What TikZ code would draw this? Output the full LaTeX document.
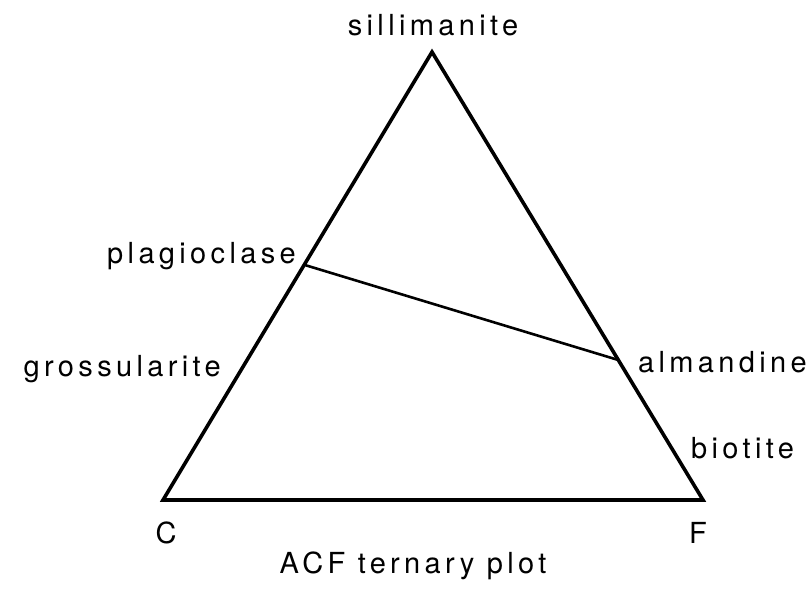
\documentclass[tikz,border=0pt]{standalone}
\usepackage{fontspec}
\setmainfont{TeX Gyre Heros}[LetterSpace=15]
\usepackage{tikz}
\usetikzlibrary{calc}
\definecolor{ink}{HTML}{000000}
\tikzset{
  mineral/.style={font=\fontsize{29}{31}\selectfont,text=ink,inner sep=0pt},
  sideline/.style={line width=3.6pt,color=ink,line join=miter},
  tieline/.style={line width=2.6pt,color=ink},
}

\begin{document}
\begin{tikzpicture}[x=1pt,y=-1pt]
  \useasboundingbox (0,0) rectangle (810,590);
  \coordinate (A) at (432,52);
  \coordinate (C) at (163,500);
  \coordinate (F) at (703,500);
  \coordinate (plag) at ($(C)!0.525!(A)$);
  \coordinate (alm) at ($(A)!0.6875!(F)$);

  \draw[sideline] (A) -- (C) -- (F) -- cycle;
  \draw[tieline] (plag) -- (alm);

  \node[mineral,anchor=base] (sil) at (433,35) {sillimanite};
  \node[mineral,anchor=base east] (pl) at (296,263) {plagioclase};
  \node[mineral,anchor=base east] (gr) at (221,376) {grossularite};
  \node[mineral,anchor=base west] (al) at (638,372) {almandine};
  \node[mineral,anchor=base west] (bi) at (691,458) {biotite};
  \node[mineral,anchor=base] (cl) at (166,543) {C};
  \node[mineral,anchor=base] (fl) at (698,543) {F};
  \node[mineral,anchor=base] (title) at (413,573) {ACF ternary plot};
\end{tikzpicture}
\end{document}
